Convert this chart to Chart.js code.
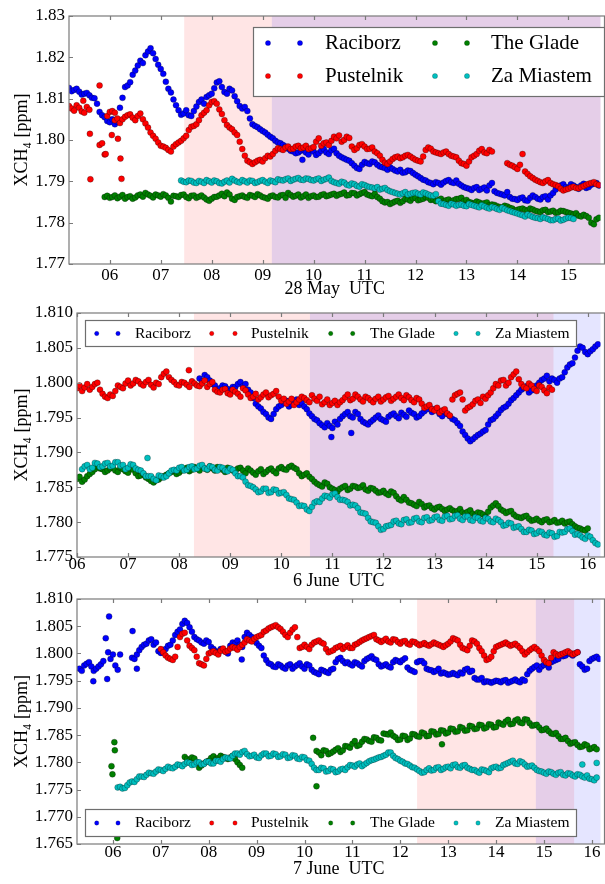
<!DOCTYPE html>
<html>
<head>
<meta charset="utf-8">
<title>XCH4 - Raciborz, Pustelnik, The Glade, Za Miastem</title>
<script src="https://cdn.jsdelivr.net/npm/chart.js@4.4.1/dist/chart.umd.min.js"></script>
<style>
  html, body { margin: 0; padding: 0; background: #fff; }
  #wrap { position: relative; width: 605px; height: 884px; overflow: hidden; }
  #wrap canvas { position: absolute; left: 0; top: 0; }
</style>
</head>
<body>
<div id="wrap">
  <canvas id="may28" width="605" height="884"></canvas>
  <canvas id="jun6" width="605" height="884"></canvas>
  <canvas id="jun7" width="605" height="884"></canvas>
</div>
<script>
/* XCH4 column averages, three days, four sites */
var SITES = ["Raciborz", "Pustelnik", "The Glade", "Za Miastem"];
var SAMPLE_STEP = 0.1; // hours between samples; the *Mid arrays sit half a step later

/* ---------------- 28 May ---------------- */
var may28Starts = [5.2, 5.2, 5.9, 7.4];
var may28Raciborz = [1.8126,1.8121,1.8117,1.8112,1.8108,1.8101,1.8068,1.8055,1.8043,1.8038,
  1.8078,1.8128,1.8140,1.8168,1.8192,1.8205,1.8222,1.8196,1.8172,1.8141,
  1.8115,1.8084,1.8061,1.8072,1.8058,1.8081,1.8098,1.8104,1.8112,1.8139,
  1.8128,1.8112,1.8120,1.8094,1.8076,1.8070,1.8038,1.8031,1.8022,1.8013,
  1.8004,1.7994,1.7988,1.7979,1.7972,1.7970,1.7976,1.7965,1.7972,1.7968,
  1.7978,1.7966,1.7979,1.7962,1.7955,1.7950,1.7938,1.7930,1.7947,1.7942,
  1.7946,1.7936,1.7932,1.7934,1.7926,1.7928,1.7922,1.7925,1.7916,1.7908,
  1.7902,1.7896,1.7898,1.7892,1.7901,1.7898,1.7902,1.7890,1.7884,1.7879,
  1.7886,1.7882,1.7878,1.7896,1.7872,1.7868,1.7874,1.7858,1.7855,1.7861,
  1.7853,1.7866,1.7858,1.7862,1.7856,1.7872,1.7888,1.7893,1.7884,1.7890,
  1.7882,1.7894,1.7886,1.7895,1.7890];
var may28RaciborzMid = [1.8118,1.8124,1.8110,1.8114,1.8102,1.8088,1.8060,1.8046,1.8050,1.8044,
  1.8102,1.8132,1.8158,1.8180,1.8186,1.8214,1.8210,1.8182,1.8160,1.8124,
  1.8098,1.8072,1.8064,1.8060,1.8070,1.8092,1.8088,1.8108,1.8125,1.8142,
  1.8116,1.8124,1.8106,1.8082,1.8080,1.8052,1.8034,1.8026,1.8018,1.8008,
  1.7998,1.7992,1.7984,1.7974,1.7968,1.7974,1.7970,1.7976,1.7964,1.7974,
  1.7970,1.7975,1.7968,1.7958,1.7952,1.7944,1.7932,1.7940,1.7944,1.7948,
  1.7940,1.7934,1.7928,1.7930,1.7924,1.7921,1.7926,1.7920,1.7912,1.7904,
  1.7898,1.7893,1.7896,1.7897,1.7903,1.7896,1.7894,1.7886,1.7882,1.7884,
  1.7879,1.7885,1.7890,1.7876,1.7870,1.7866,1.7862,1.7857,1.7859,1.7854,
  1.7860,1.7862,1.7856,1.7864,1.7866,1.7880,1.7890,1.7886,1.7893,1.7886,
  1.7890,1.7884,1.7892,1.7896];
var may28RaciborzExtra = [[9.78, 1.7952]];
var may28Pustelnik = [1.8082,1.8071,1.8078,1.8066,1.8073,null,1.7988,1.7965,1.8068,1.8048,
  1.8041,1.8056,1.8062,1.8048,1.8064,1.8040,1.8018,1.8003,1.7986,1.7981,
  1.7972,1.7990,1.7998,1.8010,1.8032,1.8038,1.8060,1.8072,1.8092,1.8088,
  1.8063,1.8036,1.8026,1.8012,1.7978,1.7950,1.7942,1.7950,1.7948,1.7962,
  1.7966,1.7980,1.7976,1.7984,1.7979,1.7986,1.7982,1.7978,1.7983,1.8004,
  1.7992,1.7988,1.8008,1.8011,1.8000,1.8005,1.7976,1.7988,1.7984,1.7979,
  1.7972,1.7962,1.7945,1.7948,1.7958,1.7956,1.7962,1.7960,1.7952,1.7948,
  1.7976,1.7979,1.7970,1.7966,1.7972,1.7962,1.7958,1.7944,1.7938,1.7958,
  1.7966,1.7978,1.7968,1.7972,null,null,1.7944,1.7938,1.7930,1.7966,
  1.7918,1.7908,1.7901,1.7896,1.7903,1.7893,1.7888,1.7878,1.7882,1.7887,
  1.7883,1.7889,1.7894,1.7898,1.7891];
var may28PustelnikMid = [1.8076,1.8084,1.8069,1.8080,null,null,1.7992,1.8058,1.8070,1.8052,
  1.8050,1.8060,1.8054,1.8058,1.8050,1.8030,1.8010,1.7994,1.7984,1.7976,
  1.7984,1.7994,1.8004,1.8024,1.8034,1.8048,1.8066,1.8084,1.8094,1.8074,
  1.8048,1.8030,1.8018,1.7996,1.7962,1.7946,1.7946,1.7952,1.7956,1.7960,
  1.7974,1.7978,1.7982,1.7978,1.7984,1.7980,1.7986,1.7980,1.7996,1.7986,
  1.7994,1.7998,1.8004,1.7996,1.8008,1.7984,1.7980,1.7990,1.7978,1.7982,
  1.7968,1.7952,1.7942,1.7954,1.7960,1.7958,1.7964,1.7956,1.7950,1.7960,
  1.7982,1.7972,1.7968,1.7970,1.7966,1.7960,1.7950,1.7942,1.7948,1.7962,
  1.7974,1.7970,1.7976,null,null,null,1.7940,1.7934,1.7940,1.7924,
  1.7912,1.7904,1.7898,1.7900,1.7896,1.7891,1.7882,1.7880,1.7885,1.7884,
  1.7886,1.7892,1.7896,1.7893];
var may28PustelnikExtra = [[5.48, 1.8095], [5.61, 1.8015], [5.62, 1.7905], [5.80, 1.8132], [5.92, 1.7966],
  [6.04, 1.8012], [6.10, 1.8066], [6.16, 1.8003], [6.21, 1.7955], [6.23, 1.7906]];
var may28Glade = [1.7862,1.7860,1.7866,1.7863,1.7858,1.7864,1.7861,1.7868,1.7872,1.7865,
  1.7868,1.7863,1.7866,1.7851,1.7864,1.7867,1.7862,1.7865,1.7860,1.7866,
  1.7856,1.7858,1.7863,1.7870,1.7873,1.7858,1.7862,1.7866,1.7860,1.7865,
  1.7869,1.7862,1.7858,1.7866,1.7861,1.7867,1.7872,1.7863,1.7868,1.7864,
  1.7860,1.7866,1.7863,1.7869,1.7866,1.7870,1.7868,1.7873,1.7867,1.7871,
  1.7869,1.7874,1.7866,1.7870,1.7858,1.7849,1.7845,1.7851,1.7848,1.7858,
  1.7853,1.7860,1.7856,1.7862,1.7855,1.7852,1.7858,1.7854,1.7851,1.7857,
  1.7860,1.7855,1.7848,1.7851,1.7846,1.7849,1.7844,1.7840,1.7836,1.7839,
  1.7834,1.7831,1.7834,1.7829,1.7832,1.7827,1.7830,1.7826,1.7829,1.7825,
  1.7828,1.7824,1.7820,1.7817,1.7819,1.7812,1.7796,1.7812];
var may28GladeMid = [1.7865,1.7862,1.7859,1.7867,1.7862,1.7858,1.7866,1.7863,1.7868,1.7861,
  1.7866,1.7869,1.7860,1.7865,1.7862,1.7868,1.7859,1.7866,1.7863,1.7861,
  1.7853,1.7862,1.7866,1.7864,1.7868,1.7855,1.7864,1.7862,1.7867,1.7862,
  1.7866,1.7860,1.7864,1.7862,1.7866,1.7860,1.7867,1.7865,1.7861,1.7868,
  1.7864,1.7862,1.7867,1.7864,1.7868,1.7865,1.7870,1.7866,1.7872,1.7866,
  1.7872,1.7868,1.7864,1.7862,1.7852,1.7850,1.7848,1.7853,1.7852,1.7856,
  1.7859,1.7854,1.7858,1.7860,1.7856,1.7855,1.7851,1.7856,1.7854,1.7858,
  1.7852,1.7850,1.7846,1.7849,1.7847,1.7842,1.7843,1.7838,1.7841,1.7836,
  1.7829,1.7833,1.7831,1.7834,1.7829,1.7826,1.7831,1.7827,1.7824,1.7829,
  1.7826,1.7822,1.7823,1.7815,1.7816,1.7800,1.7808];
var may28Za = [1.7902,1.7898,1.7901,1.7896,1.7899,1.7903,1.7897,1.7900,1.7895,1.7902,
  1.7906,1.7899,1.7903,1.7897,1.7901,1.7898,1.7903,1.7896,1.7900,1.7905,
  1.7902,1.7907,1.7904,1.7908,1.7903,1.7906,1.7902,1.7907,1.7904,1.7909,
  1.7898,1.7894,1.7897,1.7890,1.7893,1.7887,1.7891,1.7886,1.7883,1.7880,
  1.7884,1.7876,1.7872,1.7868,1.7874,1.7870,1.7873,1.7868,1.7871,1.7866,
  1.7869,1.7846,1.7843,1.7846,1.7841,1.7844,1.7840,1.7843,1.7839,1.7842,
  1.7836,1.7838,1.7833,1.7836,1.7830,1.7826,1.7822,1.7818,1.7820,1.7814,
  1.7811,1.7813,1.7809,1.7806,1.7810,1.7807,1.7812,1.7809];
var may28ZaMid = [1.7899,1.7902,1.7897,1.7901,1.7896,1.7900,1.7902,1.7896,1.7899,1.7897,
  1.7902,1.7897,1.7900,1.7902,1.7896,1.7901,1.7899,1.7902,1.7898,1.7903,
  1.7905,1.7901,1.7906,1.7904,1.7907,1.7903,1.7905,1.7901,1.7906,1.7901,
  1.7896,1.7899,1.7892,1.7895,1.7889,1.7893,1.7888,1.7885,1.7886,1.7882,
  1.7879,1.7874,1.7870,1.7871,1.7868,1.7872,1.7870,1.7873,1.7868,1.7865,
  1.7852,1.7845,1.7841,1.7844,1.7843,1.7841,1.7845,1.7841,1.7837,1.7839,
  1.7834,1.7836,1.7831,1.7833,1.7828,1.7824,1.7820,1.7815,1.7817,1.7812,
  1.7809,1.7811,1.7806,1.7809,1.7805,1.7810,1.7811];
var may28PinkSpan = [7.46, 15.63];
var may28BlueSpan = [9.18, 15.63];

/* ---------------- 6 June ---------------- */
var jun6Starts = [8.4, 6.0, 6.0, 6.1];
var jun6Raciborz = [1.8006,1.8011,1.8003,1.7996,1.7992,1.7995,1.7988,1.7994,1.8001,1.7998,
  1.7986,1.7970,1.7963,1.7955,1.7948,1.7962,1.7968,1.7974,1.7969,1.7976,
  1.7971,1.7962,1.7952,1.7946,1.7939,1.7942,1.7935,1.7940,1.7952,1.7958,
  1.7950,1.7955,1.7944,1.7940,1.7947,1.7953,1.7946,1.7951,1.7956,1.7949,
  1.7954,1.7960,1.7955,1.7952,1.7959,1.7966,1.7962,1.7955,1.7958,1.7952,
  1.7946,1.7938,1.7925,1.7916,1.7922,1.7927,1.7932,1.7946,1.7952,1.7961,
  1.7966,1.7975,1.7982,1.7990,1.7995,1.7989,1.7996,1.8004,1.8010,1.8006,
  1.8000,1.8008,1.8022,1.8028,1.8046,1.8050,1.8041,1.8048,1.8055];
var jun6RaciborzMid = [1.8002,1.8008,1.7998,1.7990,1.7996,1.7991,1.7994,1.7998,1.7995,1.7990,
  1.7978,1.7966,1.7958,1.7950,1.7955,1.7966,1.7972,1.7966,1.7973,1.7968,
  1.7966,1.7956,1.7948,1.7942,1.7936,1.7938,1.7944,1.7948,1.7955,1.7952,
  1.7958,1.7948,1.7942,1.7944,1.7950,1.7948,1.7944,1.7954,1.7952,1.7957,
  1.7951,1.7957,1.7950,1.7956,1.7962,1.7958,1.7960,1.7952,1.7955,1.7948,
  1.7942,1.7930,1.7920,1.7919,1.7925,1.7930,1.7940,1.7948,1.7956,1.7964,
  1.7970,1.7978,1.7986,1.7992,1.7986,1.7993,1.8000,1.8006,1.8002,1.8004,
  1.8006,1.8015,1.8026,1.8036,1.8052,1.8044,1.8045,1.8052];
var jun6RaciborzExtra = [[10.98, 1.7922], [11.37, 1.7928]];
var jun6Pustelnik = [1.7992,1.7988,1.7998,1.7994,1.8000,1.7984,1.7978,1.7981,1.7996,1.7992,
  1.8003,1.7999,1.8002,1.7996,1.8004,1.7993,1.7998,1.8013,1.8008,1.8001,
  1.7996,1.8000,1.7994,1.7999,1.7995,1.8003,1.7998,1.7990,1.7986,1.7991,
  1.7983,1.7987,1.7980,1.7989,1.7978,1.7984,1.7979,1.7986,1.7982,1.7988,
  1.7974,1.7970,1.7977,1.7972,1.7980,1.7975,1.7982,1.7974,1.7969,1.7976,
  1.7971,1.7968,1.7975,1.7983,1.7977,1.7980,1.7973,1.7978,1.7972,1.7980,
  1.7976,1.7981,1.7977,1.7983,1.7975,1.7979,1.7972,1.7976,1.7964,1.7968,
  1.7960,1.7957,1.7962,1.7953,1.7982,1.7986,1.7960,1.7966,1.7974,1.7971,
  1.7977,1.7986,1.7998,1.8003,1.7996,1.8008,1.8016,1.7998,1.7992,1.7996,
  1.7988,1.7994,1.7985,1.7990];
var jun6PustelnikMid = [1.7996,1.7993,1.7990,1.7998,1.7990,1.7980,1.7983,1.7988,1.7994,1.7999,
  1.7996,1.8004,1.7998,1.8001,1.7997,1.8000,1.8008,1.8016,1.8004,1.7997,
  1.8001,1.7997,1.8002,1.7996,1.7999,1.7994,1.8001,1.7987,1.7990,1.7985,
  1.7990,1.7984,1.7992,1.7983,1.7980,1.7976,1.7983,1.7979,1.7984,1.7980,
  1.7977,1.7973,1.7968,1.7976,1.7978,1.7972,1.7977,1.7980,1.7972,1.7968,
  1.7974,1.7972,1.7979,1.7975,1.7983,1.7976,1.7980,1.7975,1.7977,1.7973,
  1.7979,1.7974,1.7980,1.7978,1.7982,1.7975,1.7978,1.7970,1.7966,1.7962,
  1.7964,1.7960,1.7956,1.7976,1.7984,1.7976,1.7964,1.7969,1.7976,1.7980,
  1.7982,1.7992,1.7996,1.8004,1.8000,1.8012,1.8005,1.7994,1.7999,1.7991,
  1.7996,1.7989,1.7993];
var jun6PustelnikExtra = [[8.19, 1.8018]];
var jun6Glade = [1.7862,1.7858,1.7866,1.7872,1.7880,1.7876,1.7874,1.7878,1.7872,1.7876,
  1.7871,1.7875,1.7866,1.7869,1.7862,1.7857,1.7861,1.7866,1.7870,1.7873,
  1.7871,1.7876,1.7873,1.7879,1.7874,1.7877,1.7880,1.7874,1.7878,1.7872,
  1.7876,1.7873,1.7878,1.7870,1.7874,1.7868,1.7876,1.7872,1.7877,1.7870,
  1.7879,1.7875,1.7881,1.7876,1.7866,1.7870,1.7862,1.7855,1.7851,1.7855,
  1.7848,1.7844,1.7850,1.7846,1.7852,1.7849,1.7853,1.7845,1.7848,1.7842,
  1.7845,1.7839,1.7842,1.7833,1.7836,1.7828,1.7825,1.7829,1.7821,1.7824,
  1.7818,1.7822,1.7816,1.7820,1.7815,1.7819,1.7812,1.7817,1.7810,1.7813,
  1.7808,1.7821,1.7827,1.7818,1.7813,1.7816,1.7808,1.7806,1.7809,1.7802,
  1.7805,1.7800,1.7804,1.7801,1.7799,1.7802,1.7800,1.7797,1.7792,1.7789,
  1.7791];
var jun6GladeMid = [1.7865,1.7861,1.7869,1.7876,1.7877,1.7872,1.7877,1.7874,1.7878,1.7873,
  1.7877,1.7870,1.7867,1.7864,1.7859,1.7860,1.7864,1.7868,1.7872,1.7869,
  1.7874,1.7878,1.7875,1.7877,1.7880,1.7875,1.7877,1.7879,1.7875,1.7878,
  1.7874,1.7877,1.7874,1.7877,1.7871,1.7873,1.7869,1.7875,1.7873,1.7877,
  1.7876,1.7879,1.7878,1.7870,1.7868,1.7865,1.7858,1.7853,1.7857,1.7850,
  1.7846,1.7848,1.7852,1.7848,1.7851,1.7850,1.7847,1.7849,1.7845,1.7843,
  1.7841,1.7844,1.7837,1.7831,1.7832,1.7827,1.7823,1.7826,1.7823,1.7820,
  1.7821,1.7819,1.7818,1.7817,1.7816,1.7814,1.7815,1.7812,1.7814,1.7811,
  1.7815,1.7824,1.7823,1.7816,1.7815,1.7811,1.7807,1.7808,1.7805,1.7803,
  1.7802,1.7803,1.7800,1.7803,1.7800,1.7798,1.7801,1.7794,1.7791,1.7788];
var jun6Za = [1.7876,1.7882,1.7878,1.7884,1.7880,1.7885,1.7881,1.7886,1.7882,1.7878,
  1.7882,1.7875,1.7870,1.7866,1.7862,1.7867,1.7864,1.7870,1.7875,1.7878,
  1.7874,1.7879,1.7876,1.7881,1.7877,1.7880,1.7875,1.7879,1.7874,1.7877,
  1.7870,1.7866,1.7858,1.7852,1.7847,1.7844,1.7848,1.7843,1.7846,1.7842,
  1.7839,1.7833,1.7828,1.7824,1.7818,1.7822,1.7830,1.7834,1.7837,1.7840,
  1.7836,1.7832,1.7829,1.7825,1.7820,1.7813,1.7806,1.7800,1.7794,1.7790,
  1.7795,1.7801,1.7798,1.7803,1.7799,1.7805,1.7801,1.7806,1.7802,1.7807,
  1.7803,1.7808,1.7804,1.7809,1.7805,1.7808,1.7803,1.7807,1.7802,1.7806,
  1.7801,1.7805,1.7800,1.7796,1.7798,1.7793,1.7790,1.7786,1.7788,1.7784,
  1.7786,1.7781,1.7784,1.7780,1.7785,1.7790,1.7787,1.7783,1.7778,1.7781,
  1.7774,1.7768];
var jun6ZaMid = [1.7880,1.7876,1.7885,1.7879,1.7884,1.7880,1.7886,1.7881,1.7876,1.7883,
  1.7877,1.7874,1.7866,1.7866,1.7860,1.7866,1.7866,1.7874,1.7874,1.7879,
  1.7875,1.7880,1.7877,1.7882,1.7876,1.7879,1.7874,1.7878,1.7873,1.7875,
  1.7866,1.7864,1.7853,1.7850,1.7843,1.7848,1.7842,1.7847,1.7841,1.7843,
  1.7834,1.7832,1.7823,1.7823,1.7816,1.7828,1.7829,1.7838,1.7835,1.7841,
  1.7832,1.7831,1.7824,1.7824,1.7814,1.7812,1.7801,1.7799,1.7789,1.7794,
  1.7796,1.7802,1.7797,1.7804,1.7800,1.7806,1.7800,1.7807,1.7803,1.7808,
  1.7802,1.7809,1.7805,1.7810,1.7803,1.7808,1.7802,1.7806,1.7801,1.7805,
  1.7800,1.7803,1.7795,1.7799,1.7792,1.7794,1.7786,1.7789,1.7783,1.7787,
  1.7782,1.7785,1.7779,1.7786,1.7786,1.7791,1.7782,1.7781,1.7776,1.7779,
  1.7770];
var jun6ZaExtra = [[7.38, 1.7892]];
var jun6PinkSpan = [8.29, 15.33];
var jun6BlueSpan = [10.56, 16.25];

/* ---------------- 7 June ---------------- */
var jun7Starts = [5.3, 7.0, 7.5, 6.1];
var jun7Raciborz = [1.7972,1.7978,1.7984,1.7968,1.7976,1.7986,null,1.7998,1.7970,null,
  null,1.7992,1.7998,1.8012,1.8018,1.8026,1.8020,1.8001,1.8008,1.8016,
  1.8034,1.8044,1.8060,1.8048,1.8030,1.8024,1.8018,1.8021,1.8008,1.8002,
  1.8006,1.8000,1.8020,1.8024,1.8012,1.8038,1.8030,1.8019,1.8010,1.7988,
  1.7980,1.7975,1.7978,1.7972,1.7980,1.7976,1.7982,1.7972,1.7978,1.7966,
  1.7962,1.7968,1.7964,1.7972,1.7990,1.7986,1.7984,1.7978,1.7982,1.7976,
  1.7990,1.7995,1.7988,1.7976,1.7980,1.7974,1.7988,1.7984,1.7991,1.7970,
  1.7966,1.7986,1.7982,1.7970,1.7966,1.7972,1.7965,1.7961,1.7964,1.7960,
  1.7963,1.7972,1.7968,1.7952,1.7955,1.7949,1.7946,1.7950,1.7947,1.7951,
  1.7948,1.7952,1.7947,1.7950,1.7968,1.7975,1.7970,1.7979,1.7974,1.7986,
  1.7990,1.7995,1.8001,1.7996,1.8002,1.7976,1.7972,1.7990,1.7994];
var jun7RaciborzMid = [1.7968,1.7981,1.7976,1.7972,1.7980,null,1.7990,1.7978,null,null,
  null,1.7990,1.8006,1.8016,1.8024,1.8016,1.8004,1.8002,1.8014,1.8024,
  1.8040,1.8054,1.8056,1.8040,1.8026,1.8020,1.8024,1.8012,1.8004,1.8008,
  1.8003,1.8014,1.8018,1.8016,1.8030,1.8034,1.8024,1.8014,1.7996,1.7982,
  1.7976,1.7980,1.7974,1.7978,1.7972,1.7979,1.7976,1.7980,1.7970,1.7964,
  1.7970,1.7966,1.7970,1.7984,1.7992,1.7982,1.7980,1.7984,1.7979,1.7986,
  1.7992,1.7990,1.7980,1.7978,1.7976,1.7984,1.7986,1.7988,1.7974,1.7968,
  1.7984,1.7986,1.7972,1.7969,1.7968,1.7963,1.7963,1.7962,1.7962,1.7965,
  1.7970,1.7966,1.7955,1.7952,1.7947,1.7948,1.7948,1.7949,1.7950,1.7946,
  1.7950,1.7949,1.7952,1.7962,1.7972,1.7978,1.7976,1.7982,1.7984,1.7988,
  1.7998,1.7996,1.7999,1.8000,1.7980,1.7970,1.7986,1.7992,1.7990];
var jun7RaciborzExtra = [[5.59, 1.7949], [5.85, 1.8028], [5.88, 1.7953], [5.90, 1.8002], [5.92, 1.8068],
  [6.15, 1.7998], [6.41, 1.8041], [6.50, 1.7972], [8.69, 1.7989]];
var jun7Pustelnik = [1.8008,1.7996,1.7990,1.7994,1.8030,1.8038,1.8014,1.8006,1.7982,1.7978,
  1.8000,1.8004,1.7998,1.8009,1.8005,1.8012,1.8007,1.8016,1.8026,1.8022,
  1.8030,1.8034,1.8042,1.8048,1.8052,1.8045,1.8034,1.8038,1.8048,1.8010,
  1.8016,1.8008,1.8020,1.8024,1.8018,1.8002,1.8006,1.8012,1.8008,1.8015,
  1.8010,1.8018,1.8024,1.8028,1.8032,1.8026,1.8021,1.8027,1.8020,1.8025,
  1.8018,1.8023,1.8016,1.8021,1.8015,1.8019,1.8014,1.8020,1.8016,1.8012,
  1.8018,1.8028,1.8024,1.8010,1.8006,1.8024,1.8018,1.8004,1.7988,1.7994,
  1.8012,1.8016,1.8020,1.8014,1.8018,1.8010,1.7998,1.8006,1.8012,1.8004,
  1.7988,1.7982,1.8002,1.7996,1.8000,1.8004,1.7998,1.8002];
var jun7PustelnikMid = [1.8002,1.7992,1.7988,1.8012,1.8036,1.8024,1.8010,1.7994,1.7980,1.7990,
  1.8002,1.8001,1.8005,1.8003,1.8009,1.8010,1.8012,1.8020,1.8024,1.8027,
  1.8032,1.8040,1.8046,1.8050,1.8048,1.8040,1.8030,1.8044,1.8030,1.8012,
  1.8012,1.8016,1.8022,1.8020,1.8008,1.8004,1.8010,1.8014,1.8012,1.8010,
  1.8016,1.8021,1.8026,1.8030,1.8034,1.8024,1.8024,1.8022,1.8026,1.8021,
  1.8022,1.8018,1.8022,1.8018,1.8017,1.8016,1.8017,1.8018,1.8014,1.8015,
  1.8022,1.8026,1.8016,1.8008,1.8014,1.8022,1.8010,1.7996,1.7990,1.8004,
  1.8014,1.8018,1.8017,1.8016,1.8014,1.8004,1.8002,1.8009,1.8008,1.7996,
  1.7984,1.7992,1.7999,1.7998,1.8002,1.8001,1.8000];
var jun7Glade = [1.7810,1.7804,1.7807,1.7790,1.7798,1.7803,1.7811,1.7808,1.7810,1.7806,
  1.7812,1.7800,1.7790,null,null,null,null,null,null,null,
  null,null,null,null,null,null,null,null,1.7818,1.7822,
  1.7815,1.7820,1.7826,1.7822,1.7829,1.7834,1.7830,1.7838,1.7842,1.7838,
  1.7845,1.7840,1.7852,1.7855,1.7846,1.7842,1.7848,1.7844,1.7851,1.7847,
  1.7853,1.7849,1.7856,1.7852,1.7858,1.7855,1.7861,1.7857,1.7863,1.7859,
  1.7866,1.7862,1.7868,1.7864,1.7869,1.7865,1.7871,1.7875,1.7870,1.7877,
  1.7873,1.7879,1.7872,1.7868,1.7864,1.7860,1.7857,1.7852,1.7848,1.7843,
  1.7839,1.7836,1.7832,1.7829,1.7831,1.7826,1.7824];
var jun7GladeMid = [1.7806,1.7809,1.7800,1.7794,1.7801,1.7808,1.7806,1.7812,1.7808,1.7809,
  1.7806,1.7795,null,null,null,null,null,null,null,null,
  null,null,null,null,null,null,null,1.7821,1.7813,1.7821,
  1.7817,1.7823,1.7819,1.7830,1.7827,1.7839,1.7832,1.7843,1.7839,1.7846,
  1.7841,1.7853,1.7851,1.7849,1.7841,1.7849,1.7841,1.7852,1.7848,1.7855,
  1.7848,1.7857,1.7851,1.7859,1.7853,1.7862,1.7856,1.7865,1.7858,1.7867,
  1.7861,1.7869,1.7862,1.7870,1.7864,1.7873,1.7869,1.7878,1.7871,1.7879,
  1.7872,1.7878,1.7867,1.7869,1.7859,1.7862,1.7853,1.7854,1.7843,1.7845,
  1.7834,1.7837,1.7828,1.7833,1.7824,1.7828];
var jun7GladeExtra = [[5.97, 1.7793], [5.99, 1.7778], [6.03, 1.7837], [6.04, 1.7822], [6.09, 1.7661],
  [10.18, 1.7845], [10.25, 1.7756], [12.87, 1.7833]];
var jun7Za = [1.7754,1.7752,1.7758,1.7765,1.7769,1.7774,1.7777,1.7780,1.7783,1.7786,
  1.7788,1.7790,1.7792,1.7795,1.7797,1.7799,1.7796,1.7800,1.7797,1.7801,
  1.7798,1.7803,1.7806,1.7808,1.7812,1.7816,1.7819,1.7815,1.7812,1.7809,
  1.7813,1.7816,1.7812,1.7815,1.7811,1.7814,1.7809,1.7812,1.7806,1.7809,
  1.7803,1.7790,1.7786,1.7789,1.7784,1.7787,1.7783,1.7788,1.7791,1.7794,
  1.7796,1.7793,1.7799,1.7804,1.7807,1.7810,1.7814,1.7818,1.7808,1.7803,
  1.7798,1.7794,1.7790,1.7784,1.7782,1.7789,1.7786,1.7791,1.7788,1.7792,
  1.7795,1.7791,1.7794,1.7790,1.7786,1.7783,1.7787,1.7784,1.7789,1.7792,
  1.7790,1.7797,1.7801,1.7798,1.7802,1.7796,1.7793,1.7790,1.7784,1.7781,
  1.7783,1.7779,1.7781,1.7777,1.7780,1.7776,1.7778,1.7774,1.7776,1.7769,
  1.7772];
var jun7ZaMid = [1.7755,1.7753,1.7763,1.7764,1.7774,1.7773,1.7781,1.7779,1.7787,1.7784,
  1.7792,1.7789,1.7796,1.7793,1.7800,1.7795,1.7800,1.7796,1.7801,1.7798,
  1.7803,1.7801,1.7809,1.7807,1.7816,1.7814,1.7821,1.7811,1.7814,1.7808,
  1.7816,1.7811,1.7816,1.7810,1.7815,1.7808,1.7813,1.7807,1.7810,1.7804,
  1.7797,1.7786,1.7790,1.7783,1.7788,1.7782,1.7787,1.7786,1.7795,1.7792,
  1.7798,1.7796,1.7802,1.7805,1.7809,1.7812,1.7818,1.7812,1.7806,1.7801,
  1.7797,1.7791,1.7787,1.7781,1.7786,1.7785,1.7790,1.7786,1.7791,1.7789,
  1.7796,1.7790,1.7795,1.7788,1.7786,1.7781,1.7786,1.7782,1.7791,1.7789,
  1.7795,1.7799,1.7803,1.7797,1.7800,1.7792,1.7794,1.7786,1.7783,1.7779,
  1.7782,1.7777,1.7782,1.7776,1.7779,1.7774,1.7777,1.7772,1.7770,1.7767];
var jun7ZaExtra = [[15.8, 1.7796], [16.1, 1.7799]];
var jun7PinkSpan = [12.35, 15.63];
var jun7BlueSpan = [14.83, 16.18];

/* ------------------------------------------------------------------ */
/* Helpers                                                             */
/* ------------------------------------------------------------------ */
var SERIF = "'Liberation Serif', 'Times New Roman', 'DejaVu Serif', serif";
var COLORS = ["#0000ff", "#ff0000", "#008000", "#00bfbf"];
var PINK = "rgba(255,0,0,0.1)";
var LAVENDER = "rgba(0,0,255,0.1)";

function pushSamples(pts, start, values) {
  values.forEach(function (v, i) {
    if (v !== null) pts.push({ x: Math.round((start + i * SAMPLE_STEP) * 100) / 100, y: v });
  });
}

function buildDatasets(starts, lists, mids, extras) {
  return lists.map(function (vals, i) {
    var pts = [];
    pushSamples(pts, starts[i], vals);
    pushSamples(pts, starts[i] + SAMPLE_STEP / 2, mids[i]);
    (extras[i] || []).forEach(function (p) { pts.push({ x: p[0], y: p[1] }); });
    pts.sort(function (a, b) { return a.x - b.x; });
    return {
      label: SITES[i],
      data: pts,
      backgroundColor: COLORS[i],
      borderColor: "rgba(0,0,0,0.55)",
      borderWidth: 0.5,
      pointRadius: 3,
      order: 4 - i,          // later sites sit on top
    };
  });
}

/* shaded observation windows */
var spanPlugin = {
  id: "spans",
  beforeDatasetsDraw: function (chart, args, opts) {
    var ctx = chart.ctx, a = chart.chartArea, x = chart.scales.x;
    ctx.save();
    (opts.list || []).forEach(function (s) {
      var x0 = Math.max(a.left, x.getPixelForValue(s.range[0]));
      var x1 = Math.min(a.right, x.getPixelForValue(s.range[1]));
      ctx.fillStyle = s.color;
      ctx.fillRect(x0, a.top, x1 - x0, a.bottom - a.top);
    });
    ctx.restore();
  },
};

/* axes frame with inward tick marks */
var framePlugin = {
  id: "frame",
  afterDatasetsDraw: function (chart) {
    var ctx = chart.ctx, a = chart.chartArea, sx = chart.scales.x, sy = chart.scales.y;
    ctx.save();
    ctx.strokeStyle = "#7a7a7a";
    ctx.lineWidth = 1.2;
    ctx.strokeRect(a.left, a.top, a.right - a.left + 4, a.bottom - a.top);
    ctx.beginPath();
    sx.ticks.forEach(function (t) {
      var px = Math.round(sx.getPixelForValue(t.value)) + 0.5;
      ctx.moveTo(px, a.bottom); ctx.lineTo(px, a.bottom - 4);
      ctx.moveTo(px, a.top); ctx.lineTo(px, a.top + 4);
    });
    sy.ticks.forEach(function (t) {
      var py = Math.round(sy.getPixelForValue(t.value)) + 0.5;
      ctx.moveTo(a.left, py); ctx.lineTo(a.left + 4, py);
    });
    ctx.stroke();
    ctx.restore();
  },
};

/* boxed legend with two sample markers per site */
var boxLegendPlugin = {
  id: "boxLegend",
  afterDraw: function (chart, args, o) {
    var ctx = chart.ctx;
    ctx.save();
    ctx.fillStyle = "#fff";
    ctx.fillRect(o.box[0], o.box[1], o.box[2], o.box[3]);
    ctx.strokeStyle = "#6e6e6e";
    ctx.lineWidth = 1.2;
    ctx.strokeRect(o.box[0], o.box[1], o.box[2], o.box[3]);
    ctx.font = o.fontSize + "px " + SERIF;
    ctx.textBaseline = "middle";
    ctx.textAlign = "left";
    o.items.forEach(function (it, i) {
      [it[0], it[1]].forEach(function (mx) {
        ctx.beginPath();
        ctx.arc(mx, it[3], o.marker, 0, Math.PI * 2);
        ctx.fillStyle = COLORS[i];
        ctx.fill();
        ctx.lineWidth = 0.4;
        ctx.strokeStyle = "rgba(0,0,0,0.5)";
        ctx.stroke();
      });
      ctx.fillStyle = "#000";
      ctx.fillText(SITES[i], it[2], it[3]);
    });
    ctx.restore();
  },
};

function hourLabel(v) { return (v < 10 ? "0" : "") + v; }

function makePanel(el, p) {
  return new Chart(document.getElementById(el), {
    type: "scatter",
    data: { datasets: p.datasets },
    plugins: [spanPlugin, framePlugin, boxLegendPlugin],
    options: {
      responsive: false,
      animation: false,
      events: [],
      layout: { padding: { top: p.top, bottom: p.bottom, left: 0, right: 0 } },
      plugins: {
        legend: { display: false },
        tooltip: { enabled: false },
        spans: { list: p.spans },
        boxLegend: p.legend,
      },
      scales: {
        x: {
          type: "linear",
          min: p.xMin, max: p.xMax,
          afterFit: function (s) { s.height = p.xHeight; },
          grid: { display: false, drawTicks: false },
          border: { display: false },
          ticks: {
            stepSize: 1, includeBounds: false, padding: p.xPad, color: "#000",
            font: { family: SERIF, size: 17, lineHeight: 1 },
            callback: hourLabel,
          },
          title: {
            display: true, text: p.xTitle, color: "#000", padding: 0,
            font: { family: SERIF, size: 18 },
          },
        },
        y: {
          min: p.yMin, max: p.yMax,
          afterFit: function (s) { s.width = p.yWidth; },
          grid: { display: false, drawTicks: false },
          border: { display: false },
          ticks: {
            stepSize: p.yStep, padding: 4, color: "#000",
            font: { family: SERIF, size: 17, lineHeight: 1 },
            callback: function (v) { return v.toFixed(p.yDigits); },
          },
          title: {
            display: true, text: "XCH\u2084 [ppm]", color: "#000",
            padding: { top: 11, bottom: 0 },
            font: { family: SERIF, size: 18 },
          },
        },
      },
    },
  });
}

var rowLegendItems = function (y) {
  return [[96.7, 118, 135, y], [211.7, 235, 251, y], [330.7, 352.7, 370, y], [456, 478, 495, y]];
};

/* 28 May */
makePanel("may28", {
  datasets: buildDatasets(may28Starts,
    [may28Raciborz, may28Pustelnik, may28Glade, may28Za],
    [may28RaciborzMid, may28PustelnikMid, may28GladeMid, may28ZaMid],
    [may28RaciborzExtra, may28PustelnikExtra, null, null]),
  spans: [{ range: may28PinkSpan, color: PINK }, { range: may28BlueSpan, color: LAVENDER }],
  top: 16, bottom: 584, xHeight: 36, xPad: 3.5, yWidth: 69,
  xMin: 5.2, xMax: 15.63, yMin: 1.77, yMax: 1.83, yStep: 0.01, yDigits: 2,
  xTitle: "28 May  UTC",
  legend: {
    box: [253.5, 27.5, 351, 69], fontSize: 21, marker: 2.6,
    items: [[268, 300, 325, 43], [268, 300, 325, 76], [435, 467, 491, 43], [435, 467, 491, 76]],
  },
});

/* 6 June */
makePanel("jun6", {
  datasets: buildDatasets(jun6Starts,
    [jun6Raciborz, jun6Pustelnik, jun6Glade, jun6Za],
    [jun6RaciborzMid, jun6PustelnikMid, jun6GladeMid, jun6ZaMid],
    [jun6RaciborzExtra, jun6PustelnikExtra, null, jun6ZaExtra]),
  spans: [{ range: jun6PinkSpan, color: PINK }, { range: jun6BlueSpan, color: LAVENDER }],
  top: 313, bottom: 292, xHeight: 35, xPad: -1, yWidth: 77,
  xMin: 6.0, xMax: 16.25, yMin: 1.775, yMax: 1.81, yStep: 0.005, yDigits: 3,
  xTitle: "6 June  UTC",
  legend: { box: [85.5, 320.5, 491, 26], fontSize: 15.5, marker: 2.2, items: rowLegendItems(333.5) },
});

/* 7 June */
makePanel("jun7", {
  datasets: buildDatasets(jun7Starts,
    [jun7Raciborz, jun7Pustelnik, jun7Glade, jun7Za],
    [jun7RaciborzMid, jun7PustelnikMid, jun7GladeMid, jun7ZaMid],
    [jun7RaciborzExtra, null, jun7GladeExtra, jun7ZaExtra]),
  spans: [{ range: jun7PinkSpan, color: PINK }, { range: jun7BlueSpan, color: LAVENDER }],
  top: 599, bottom: 4, xHeight: 36, xPad: 0.5, yWidth: 77,
  xMin: 5.25, xMax: 16.18, yMin: 1.765, yMax: 1.81, yStep: 0.005, yDigits: 3,
  xTitle: "7 June  UTC",
  legend: { box: [85.5, 809.5, 491, 27], fontSize: 15.5, marker: 2.2, items: rowLegendItems(823) },
});
</script>
</body>
</html>
